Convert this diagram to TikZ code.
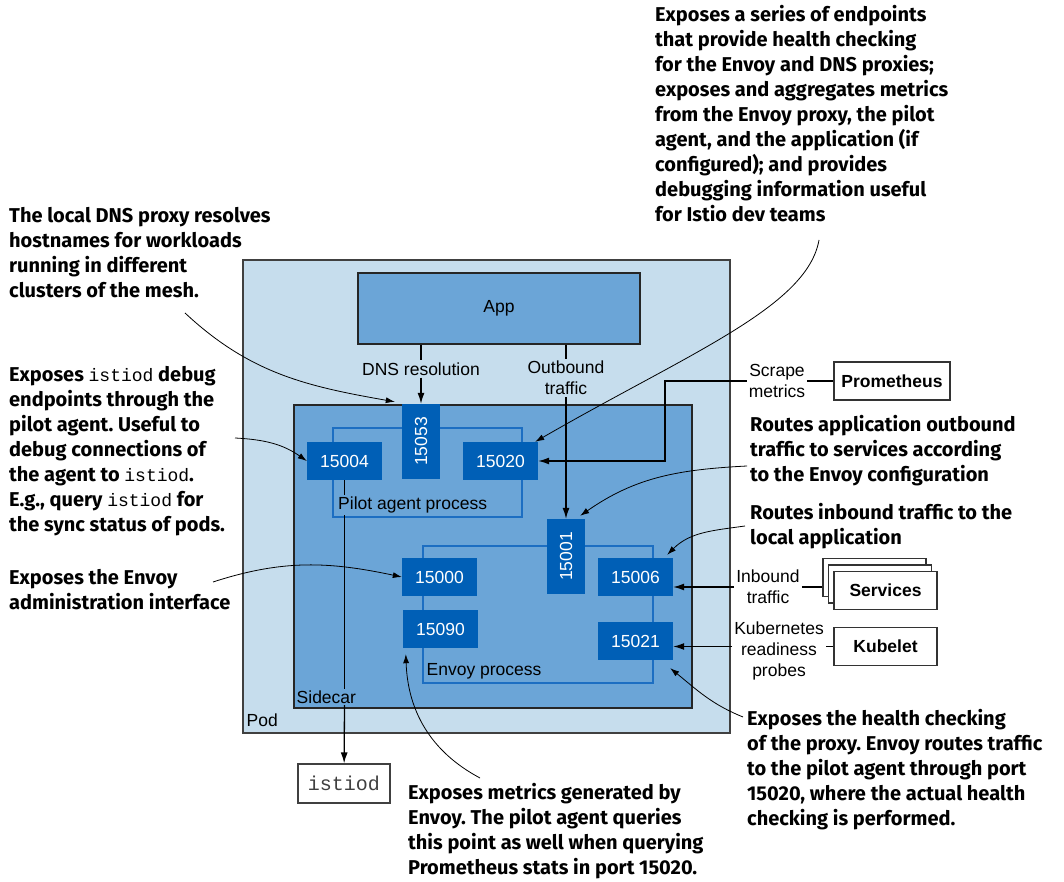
\documentclass[tikz,border=0pt]{standalone}
\usepackage{fontspec}
\setmainfont{Liberation Sans}
\setmonofont{Liberation Mono}
\newfontfamily\notefont{Fira Sans}
\usetikzlibrary{arrows.meta}
\frenchspacing

\definecolor{podblue}{HTML}{C6DDED}
\definecolor{carblue}{HTML}{6BA5D7}
\definecolor{portblue}{HTML}{005FB6}
\definecolor{procblue}{HTML}{1C6EC2}
\newcommand{\code}[1]{{\mdseries\ttfamily\fontsize{18}{25}\selectfont #1}}

\begin{document}
\begin{tikzpicture}[x=1pt,y=1pt,>={Latex[length=11pt,width=7pt]}]
    \useasboundingbox (0,0) rectangle (1064,882);
    \tikzstyle{every node}=[font=\fontsize{17.5}{21}\selectfont]
    \tikzstyle{port}=[fill=portblue, text=white, minimum width=75pt, minimum height=38pt, inner sep=0pt]
    \tikzstyle{proc}=[draw=procblue, line width=1.2pt, inner sep=0pt]
    \tikzstyle{ext}=[draw=black!80, line width=1.2pt, fill=white, minimum width=103pt, minimum height=38pt, font=\bfseries\fontsize{17.5}{21}\selectfont]
    \tikzstyle{tag}=[align=center, inner sep=2pt]
    \tikzstyle{note}=[anchor=north west, align=left, inner sep=0pt, font=\notefont\bfseries\fontsize{20}{25}\selectfont]
    \tikzstyle{pointer}=[-{Latex[length=9pt,width=6pt]}, line width=0.8pt]

    \node[draw=black!75, line width=1.5pt, fill=podblue, minimum width=487pt, minimum height=473pt] (pod) at (486.5,385.5) {};
    \node[draw=black!85, line width=1.5pt, fill=carblue, minimum width=282pt, minimum height=71pt] (app) at (499,573.5) {App};
    \node[draw=black!85, line width=1.5pt, fill=carblue, minimum width=398pt, minimum height=303pt] (sidecar) at (493,325.5) {};
    \node[proc, minimum width=189pt, minimum height=89pt] (pilot) at (427.5,409.5) {};
    \node[proc, minimum width=230pt, minimum height=137pt] (envoy) at (538,267.5) {};

    \node[anchor=west, inner sep=1.5pt] (podlbl) at (245,162) {Pod};
    \node[anchor=west, inner sep=1.5pt] (sidecarlbl) at (295,185) {Sidecar};
    \node[anchor=west, inner sep=2pt] (pilotlbl) at (336,377) {Pilot agent process};
    \node[anchor=west, inner sep=1.5pt] (envoylbl) at (425,211) {Envoy process};

    \node[port] (p15004) at (344.5,421) {15004};
    \node[port, rotate=90] (p15053) at (421,440.5) {15053};
    \node[port] (p15020) at (500.5,421) {15020};
    \node[port, rotate=90] (p15001) at (566,325.5) {15001};
    \node[port] (p15000) at (439.5,305) {15000};
    \node[port] (p15090) at (440.5,253) {15090};
    \node[port] (p15006) at (635.5,305) {15006};
    \node[port] (p15021) at (635.5,241) {15021};

    \node[tag] (dnslbl) at (421,513) {DNS resolution};
    \node[tag] (outlbl) at (566,504) {Outbound\\traffic};
    \draw[line width=1.3pt] (app.south -| dnslbl) -- (dnslbl);
    \draw[line width=1.3pt, ->] (dnslbl) -- (p15053);
    \draw[line width=1.3pt] (app.south -| outlbl) -- (outlbl);
    \draw[line width=1.3pt, ->] (outlbl) -- (p15001);

    \node[ext, minimum width=116pt] (prom) at (892,501) {Prometheus};
    \node[ext] (svcback2) at (874.5,304.5) {};
    \node[ext] (svcback1) at (880,298) {};
    \node[ext] (services) at (885.5,291.5) {Services};
    \node[ext] (kubelet) at (885.5,235.5) {Kubelet};
    \node[draw=black!75, line width=1.2pt, text=black!75, minimum width=92pt, minimum height=39pt, font=\ttfamily\fontsize{20}{24}\selectfont] (istiod) at (344,98.5) {istiod};

    \node[tag] (scrapelbl) at (777,501) {Scrape\\metrics};
    \node[tag] (inlbl) at (768,295) {Inbound\\traffic};
    \node[tag] (kubelbl) at (779,231) {Kubernetes\\readiness\\probes};
    \coordinate (scrapebend) at (665,421);

    \draw[line width=1.3pt] (prom) -- (scrapelbl);
    \draw[line width=1.3pt, ->] (scrapelbl) -| (scrapebend) -- (p15020);
    \draw[line width=1.3pt] (inlbl) -- (inlbl -| svcback2.west);
    \draw[line width=1.3pt, ->] (inlbl) -- (inlbl -| p15006.east);
    \draw[line width=1.3pt] (kubelet.west) -- (kubelet.west -| kubelbl.east);
    \draw[line width=1.3pt, ->] (kubelbl.west |- kubelet) -- (kubelet -| p15021.east);

    \draw[line width=1.3pt] (p15004) -- (p15004 |- pilotlbl.north);
    \draw[line width=1.3pt] (p15004 |- pilotlbl.south) -- (p15004 |- sidecarlbl.north);
    \draw[line width=1.3pt, ->] (p15004 |- sidecarlbl.south) -- (istiod);

    \node[note] (agentnote) at (655,877) {Exposes a series of endpoints\\that provide health checking\\for the Envoy and DNS proxies;\\exposes and aggregates metrics\\from the Envoy proxy, the pilot\\agent, and the application (if\\configured); and provides\\debugging information useful\\for Istio dev teams};
    \node[note] (dnsnote) at (9,675) {The local DNS proxy resolves\\hostnames for workloads\\running in different\\clusters of the mesh.};
    \node[note] (debugnote) at (9,516) {Exposes \code{istiod} debug\\endpoints through the\\pilot agent. Useful to\\debug connections of\\the agent to \code{istiod}.\\E.g., query \code{istiod} for\\the sync status of pods.};
    \node[note] (adminnote) at (9,313) {Exposes the Envoy\\administration interface};
    \node[note] (outnote) at (750,467) {Routes application outbound\\traffic to services according\\to the Envoy configuration};
    \node[note] (innote) at (750,379) {Routes inbound traffic to the\\local application};
    \node[note] (healthnote) at (747,173) {Exposes the health checking\\of the proxy. Envoy routes traffic\\to the pilot agent through port\\15020, where the actual health\\checking is performed.};
    \node[note] (metricsnote) at (408,99) {Exposes metrics generated by\\Envoy. The pilot agent queries\\this point as well when querying\\Prometheus stats in port 15020.};

    \coordinate (agenttail) at (819,642);
    \coordinate (dnstail) at (185,569);
    \coordinate (debugtail) at (235,444);
    \coordinate (admintail) at (213,300);
    \coordinate (outtail) at (747,416);
    \coordinate (intail) at (745,356);
    \coordinate (healthtail) at (743,165);
    \coordinate (metricstail) at (480,104);

    \draw[pointer] (agenttail) to[out=-100, in=30, out looseness=0.5, in looseness=1.3] ([xshift=-3pt]p15020.north east);
    \draw[pointer] (dnstail) to[out=-43, in=170] ([xshift=-7pt,yshift=2pt]p15053.north east);
    \draw[pointer] (debugtail) to[out=-3, in=145] (p15004.west);
    \draw[pointer] (admintail) to[out=18, in=168] (p15000.west);
    \draw[pointer] (outtail) to[out=183, in=35] ([xshift=-5pt,yshift=3pt]p15001.south east);
    \draw[pointer] (intail) to[out=188, in=45] ([xshift=-6pt,yshift=3pt]p15006.north east);
    \draw[pointer] (healthtail) to[out=158, in=-39] ([xshift=-3pt,yshift=-8pt]p15021.south east);
    \draw[pointer] (metricstail) to[out=152, in=-88] ([xshift=3pt,yshift=-6pt]p15090.south west);
\end{tikzpicture}
\end{document}
